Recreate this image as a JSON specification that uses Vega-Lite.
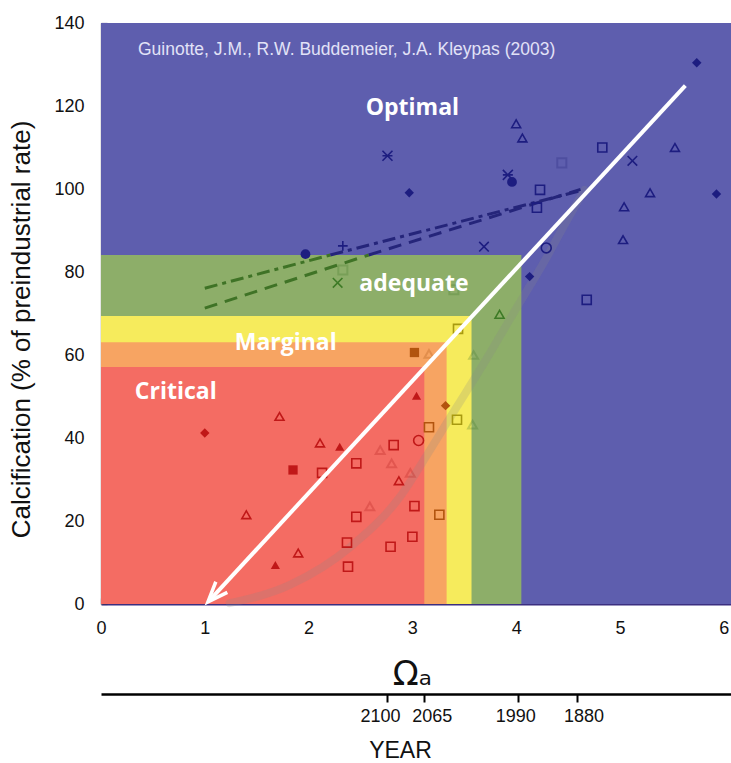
{
  "$schema": "https://vega.github.io/schema/vega-lite/v6.json",
  "width": 630,
  "height": 581,
  "autosize": {"type": "none"},
  "padding": {"left": 101, "top": 23, "right": 0, "bottom": 159},
  "config": {
    "view": {"stroke": "#cfcfcf", "strokeWidth": 1},
    "axis": {"grid": false},
    "font": "Liberation Sans"
  },
  "datasets": {
    "regions": [
      {"zone": "optimal", "x1": 0, "x2": 6.07, "y1": 0, "y2": 140},
      {"zone": "adequate", "x1": 0, "x2": 4.05, "y1": 0, "y2": 84.1},
      {"zone": "marginal_hi", "x1": 0, "x2": 3.57, "y1": 0, "y2": 69.4},
      {"zone": "marginal_lo", "x1": 0, "x2": 3.33, "y1": 0, "y2": 63.1},
      {"zone": "critical", "x1": 0, "x2": 3.115, "y1": 0, "y2": 57.1}
    ],
    "curve": [
      {"omega": 1.24, "calc": 0.2}, {"omega": 1.82, "calc": 4.6}, {"omega": 2.4, "calc": 13.7},
      {"omega": 2.88, "calc": 25.8}, {"omega": 3.17, "calc": 37.1}, {"omega": 3.41, "calc": 46.8},
      {"omega": 3.65, "calc": 56.4}, {"omega": 4.01, "calc": 71.6}, {"omega": 4.28, "calc": 82.9},
      {"omega": 4.52, "calc": 93.8}, {"omega": 4.66, "calc": 99.8}
    ],
    "dashes": [
      {"line": "upper", "zone": "green", "seg": "ug", "omega": 1.0, "calc": 76.1},
      {"line": "upper", "zone": "green", "seg": "ug", "omega": 2.21, "calc": 84.1},
      {"line": "upper", "zone": "blue", "seg": "ub", "omega": 2.21, "calc": 84.1},
      {"line": "upper", "zone": "blue", "seg": "ub", "omega": 4.62, "calc": 99.6},
      {"line": "lower", "zone": "green", "seg": "lg", "omega": 1.0, "calc": 71.3},
      {"line": "lower", "zone": "green", "seg": "lg", "omega": 2.58, "calc": 84.1},
      {"line": "lower", "zone": "blue", "seg": "lb", "omega": 2.58, "calc": 84.1},
      {"line": "lower", "zone": "blue", "seg": "lb", "omega": 4.62, "calc": 99.9}
    ],
    "pts": [
      {"series": "A", "omega": 4.0, "calc": 115.7}, {"series": "A", "omega": 4.06, "calc": 112.3},
      {"series": "A", "omega": 5.53, "calc": 110}, {"series": "A", "omega": 5.29, "calc": 99.1},
      {"series": "A", "omega": 5.04, "calc": 95.7}, {"series": "A", "omega": 5.03, "calc": 87.8},
      {"series": "A", "omega": 3.84, "calc": 69.8}, {"series": "A", "omega": 1.72, "calc": 45.2},
      {"series": "A", "omega": 2.11, "calc": 38.8}, {"series": "A", "omega": 1.4, "calc": 21.5},
      {"series": "A", "omega": 1.9, "calc": 12.3}, {"series": "A", "omega": 2.87, "calc": 29.7},
      {"series": "B", "omega": 4.83, "calc": 110}, {"series": "B", "omega": 4.23, "calc": 99.8},
      {"series": "B", "omega": 4.2, "calc": 95.5}, {"series": "B", "omega": 4.68, "calc": 73.3},
      {"series": "B", "omega": 3.44, "calc": 66.3}, {"series": "B", "omega": 3.43, "calc": 44.4},
      {"series": "B", "omega": 3.16, "calc": 42.6}, {"series": "B", "omega": 3.26, "calc": 21.5},
      {"series": "B", "omega": 2.13, "calc": 31.6}, {"series": "B", "omega": 2.37, "calc": 14.8},
      {"series": "B", "omega": 2.38, "calc": 9.0}, {"series": "B", "omega": 2.46, "calc": 33.9},
      {"series": "B", "omega": 2.82, "calc": 38.3}, {"series": "B", "omega": 2.46, "calc": 21.0},
      {"series": "B", "omega": 3.02, "calc": 23.6}, {"series": "B", "omega": 3.0, "calc": 16.2},
      {"series": "B", "omega": 2.79, "calc": 13.8},
      {"series": "G", "omega": 5.12, "calc": 106.8}, {"series": "G", "omega": 3.69, "calc": 86.1},
      {"series": "G", "omega": 2.28, "calc": 77.4},
      {"series": "H", "omega": 2.33, "calc": 86.3},
      {"series": "J", "omega": 4.29, "calc": 85.8}, {"series": "J", "omega": 3.06, "calc": 39.4},
      {"series": "K", "omega": 2.76, "calc": 108}, {"series": "K", "omega": 3.92, "calc": 103.4},
      {"series": "C", "omega": 3.04, "calc": 50.2}, {"series": "C", "omega": 2.3, "calc": 37.9},
      {"series": "C", "omega": 1.68, "calc": 9.4},
      {"series": "D", "omega": 3.02, "calc": 60.6}, {"series": "D", "omega": 1.85, "calc": 32.3},
      {"series": "E", "omega": 2.97, "calc": 99.1}, {"series": "E", "omega": 5.93, "calc": 98.8},
      {"series": "E", "omega": 1.0, "calc": 41.2}, {"series": "E", "omega": 4.13, "calc": 78.9},
      {"series": "F", "omega": 5.74, "calc": 130.4}, {"series": "F", "omega": 3.32, "calc": 47.8},
      {"series": "I", "omega": 3.96, "calc": 101.7}, {"series": "I", "omega": 1.97, "calc": 84.3}
    ],
    "ghost": [
      {"series": "B", "omega": 4.44, "calc": 106.3}, {"series": "B", "omega": 3.4, "calc": 75.7},
      {"series": "B", "omega": 2.33, "calc": 80.5}, {"series": "A", "omega": 3.16, "calc": 60.3},
      {"series": "A", "omega": 2.69, "calc": 37.1}, {"series": "A", "omega": 2.8, "calc": 33.9},
      {"series": "A", "omega": 2.98, "calc": 31.6}, {"series": "A", "omega": 2.59, "calc": 23.5},
      {"series": "A", "omega": 3.59, "calc": 60.0}, {"series": "A", "omega": 3.58, "calc": 43.2}
    ],
    "arrow": [
      {"omega": 5.63, "calc": 124.9}, {"omega": 1.05, "calc": 1.0}
    ],
    "arrowhead": [
      {"omega": 1.096, "calc": 2.3}
    ],
    "labels": [
      {"label": "Optimal", "omega": 3.0, "calc": 119.6},
      {"label": "adequate", "omega": 3.015, "calc": 77.1},
      {"label": "Marginal", "omega": 1.78, "calc": 62.9},
      {"label": "Critical", "omega": 0.72, "calc": 51.1}
    ],
    "cite": [
      {"label": "Guinotte, J.M., R.W. Buddemeier, J.A. Kleypas (2003)", "omega": 0.356, "calc": 133.6}
    ]
  },
  "layer": [
    {
      "data": {"name": "regions"},
      "mark": {"type": "rect"},
      "encoding": {
        "x": {
          "field": "x1", "type": "quantitative",
          "scale": {"domain": [0, 6.07], "nice": false, "zero": false},
          "axis": {
            "values": [0, 0.5, 1, 1.5, 2, 2.5, 3, 3.5, 4, 4.5, 5, 5.5, 6],
            "labelExpr": "datum.value % 1 === 0 ? format(datum.value, 'd') : ''",
            "tickSize": -6, "tickColor": "#3b2f6b", "tickWidth": 1.2,
            "domainColor": "#3b2f80", "domainWidth": 2,
            "labelFontSize": 18, "labelColor": "#111", "labelPadding": 21,
            "labelFlush": false, "labelOverlap": false,
            "title": "Ωₐ", "titleFont": "DejaVu Sans", "titleFontSize": 34,
            "titleFontWeight": "normal", "titleColor": "#111",
            "titleX": 311, "titleY": 70, "titleBaseline": "middle", "titleAlign": "center"
          }
        },
        "x2": {"field": "x2"},
        "y": {
          "field": "y1", "type": "quantitative",
          "scale": {"domain": [0, 140], "nice": false},
          "axis": {
            "values": [0, 20, 40, 60, 80, 100, 120, 140],
            "tickSize": -6, "tickColor": "#3b2f6b", "tickWidth": 1.2,
            "domainColor": "#9a9a9a", "domainWidth": 1.5,
            "labelFontSize": 18, "labelColor": "#111", "labelPadding": 23,
            "labelFlush": false,
            "title": "Calcification (% of preindustrial rate)",
            "titleFontSize": 26, "titleFontWeight": "normal", "titleColor": "#111",
            "titleX": -80, "titleY": 306, "titleAngle": -90,
            "titleBaseline": "middle", "titleAlign": "center"
          }
        },
        "y2": {"field": "y2"},
        "color": {
          "field": "zone", "type": "nominal",
          "scale": {
            "domain": ["optimal", "adequate", "marginal_hi", "marginal_lo", "critical"],
            "range": ["#5e5eae", "#8dae69", "#f6eb5c", "#f7a462", "#f46c63"]
          },
          "legend": null
        }
      }
    },
    {
      "data": {"name": "curve"},
      "mark": {"type": "line", "strokeWidth": 8, "color": "#8a8a8a", "opacity": 0.22, "strokeCap": "round", "interpolate": "monotone"},
      "encoding": {
        "x": {"field": "omega", "type": "quantitative", "axis": null},
        "y": {"field": "calc", "type": "quantitative", "axis": null}
      }
    },
    {
      "data": {"name": "dashes"},
      "mark": {"type": "line", "strokeWidth": 3},
      "encoding": {
        "x": {"field": "omega", "type": "quantitative", "axis": null},
        "y": {"field": "calc", "type": "quantitative", "axis": null},
        "detail": {"field": "seg"},
        "color": {"field": "zone", "type": "nominal", "scale": {"domain": ["green", "blue"], "range": ["#3f7326", "#25257a"]}, "legend": null},
        "strokeDash": {"field": "line", "type": "nominal", "scale": {"domain": ["upper", "lower"], "range": [[13, 5, 4, 5], [13, 8]]}, "legend": null}
      }
    },
    {
      "data": {"name": "ghost"},
      "mark": {"type": "point", "filled": false, "strokeWidth": 2, "opacity": 0.25},
      "encoding": {
        "x": {"field": "omega", "type": "quantitative", "axis": null},
        "y": {"field": "calc", "type": "quantitative", "axis": null},
        "shape": {"field": "series", "type": "nominal", "legend": null},
        "size": {"field": "series", "type": "nominal", "legend": null},
        "color": {
          "condition": [
            {"test": "datum.omega < 3.115 && datum.calc < 57.1", "value": "#b01818"},
            {"test": "datum.omega < 3.33 && datum.calc < 63.1", "value": "#a8500e"},
            {"test": "datum.omega < 3.57 && datum.calc < 69.4", "value": "#9c8c10"},
            {"test": "datum.omega < 4.05 && datum.calc < 84.1", "value": "#3d7326"}
          ],
          "value": "#20207a"
        }
      }
    },
    {
      "data": {"name": "pts"},
      "transform": [{"filter": "indexof(['A','B','G','H','J','K'], datum.series) >= 0"}],
      "mark": {"type": "point", "filled": false, "strokeWidth": 1.6, "opacity": 1},
      "encoding": {
        "x": {"field": "omega", "type": "quantitative", "axis": null},
        "y": {"field": "calc", "type": "quantitative", "axis": null},
        "shape": {
          "field": "series", "type": "nominal", "legend": null,
          "scale": {
            "domain": ["A", "B", "C", "D", "E", "F", "G", "H", "I", "J", "K"],
            "range": ["triangle-up", "square", "triangle-up", "square", "diamond", "diamond",
                      "M -1 -1 L 1 1 M -1 1 L 1 -1", "M -1 0 L 1 0 M 0 -1 L 0 1", "circle", "circle",
                      "M -1 -1 L 1 1 M -1 1 L 1 -1 M -1 0 L 1 0"]
          }
        },
        "size": {
          "field": "series", "type": "nominal", "legend": null,
          "scale": {
            "domain": ["A", "B", "C", "D", "E", "F", "G", "H", "I", "J", "K"],
            "range": [80, 100, 150, 210, 75, 190, 130, 110, 60, 90, 110]
          }
        },
        "color": {
          "condition": [
            {"test": "datum.omega < 3.115 && datum.calc < 57.1", "value": "#c01818"},
            {"test": "datum.omega < 3.33 && datum.calc < 63.1", "value": "#b2540e"},
            {"test": "datum.omega < 3.57 && datum.calc < 69.4", "value": "#a89a10"},
            {"test": "datum.omega < 4.05 && datum.calc < 84.1", "value": "#3d7a26"}
          ],
          "value": "#1d1d80"
        }
      }
    },
    {
      "data": {"name": "pts"},
      "transform": [{"filter": "indexof(['C','D','E','F','I'], datum.series) >= 0"}],
      "mark": {"type": "point", "filled": true, "opacity": 1},
      "encoding": {
        "x": {"field": "omega", "type": "quantitative", "axis": null},
        "y": {"field": "calc", "type": "quantitative", "axis": null},
        "shape": {"field": "series", "type": "nominal", "legend": null},
        "size": {"field": "series", "type": "nominal", "legend": null},
        "color": {
          "condition": [
            {"test": "datum.omega < 3.115 && datum.calc < 57.1", "value": "#c01818"},
            {"test": "datum.omega < 3.33 && datum.calc < 63.1", "value": "#b2540e"},
            {"test": "datum.omega < 3.57 && datum.calc < 69.4", "value": "#a89a10"},
            {"test": "datum.omega < 4.05 && datum.calc < 84.1", "value": "#3d7a26"}
          ],
          "value": "#1d1d80"
        }
      }
    },
    {
      "data": {"name": "arrow"},
      "mark": {"type": "line", "color": "#ffffff", "strokeWidth": 4},
      "encoding": {
        "x": {"field": "omega", "type": "quantitative", "axis": null},
        "y": {"field": "calc", "type": "quantitative", "axis": null}
      }
    },
    {
      "data": {"name": "arrowhead"},
      "mark": {"type": "point", "shape": "M -0.7 0.9 L 0 -0.9 L 0.7 0.9", "filled": false, "stroke": "#ffffff", "strokeWidth": 3.5, "size": 500, "angle": 222.7, "opacity": 1},
      "encoding": {
        "x": {"field": "omega", "type": "quantitative", "axis": null},
        "y": {"field": "calc", "type": "quantitative", "axis": null}
      }
    },
    {
      "data": {"name": "labels"},
      "mark": {"type": "text", "font": "Open Sans", "fontWeight": "bold", "fontSize": 23, "color": "#ffffff", "align": "center", "baseline": "middle"},
      "encoding": {
        "x": {"field": "omega", "type": "quantitative", "axis": null},
        "y": {"field": "calc", "type": "quantitative", "axis": null},
        "text": {"field": "label"}
      }
    },
    {
      "data": {"name": "cite"},
      "mark": {"type": "text", "fontSize": 17.5, "color": "#e2e2f7", "align": "left", "baseline": "middle"},
      "encoding": {
        "x": {
          "field": "omega", "type": "quantitative",
          "axis": {
            "orient": "bottom", "offset": 90,
            "values": [2.755, 3.11, 4.02, 4.59],
            "labelExpr": "datum.value < 3 ? '2100' : datum.value < 3.5 ? '2065' : datum.value < 4.3 ? '1990' : '1880'",
            "labelOffset": {
              "condition": [
                {"test": "datum.value < 3", "value": -7},
                {"test": "datum.value < 3.5", "value": 8},
                {"test": "datum.value < 4.3", "value": -3}
              ],
              "value": 6
            },
            "domainColor": "#000000", "domainWidth": 2.5,
            "tickColor": "#000000", "tickWidth": 2, "tickSize": 8,
            "labelFontSize": 18, "labelColor": "#111", "labelPadding": 5,
            "labelFlush": false, "labelOverlap": false,
            "title": "YEAR", "titleFontSize": 23, "titleFontWeight": "normal", "titleColor": "#111",
            "titleX": 299, "titleY": 63, "titleBaseline": "alphabetic", "titleAlign": "center"
          }
        },
        "y": {"field": "calc", "type": "quantitative", "axis": null},
        "text": {"field": "label"}
      }
    }
  ],
  "resolve": {"axis": {"x": "independent", "y": "independent"}, "scale": {"color": "independent"}}
}
